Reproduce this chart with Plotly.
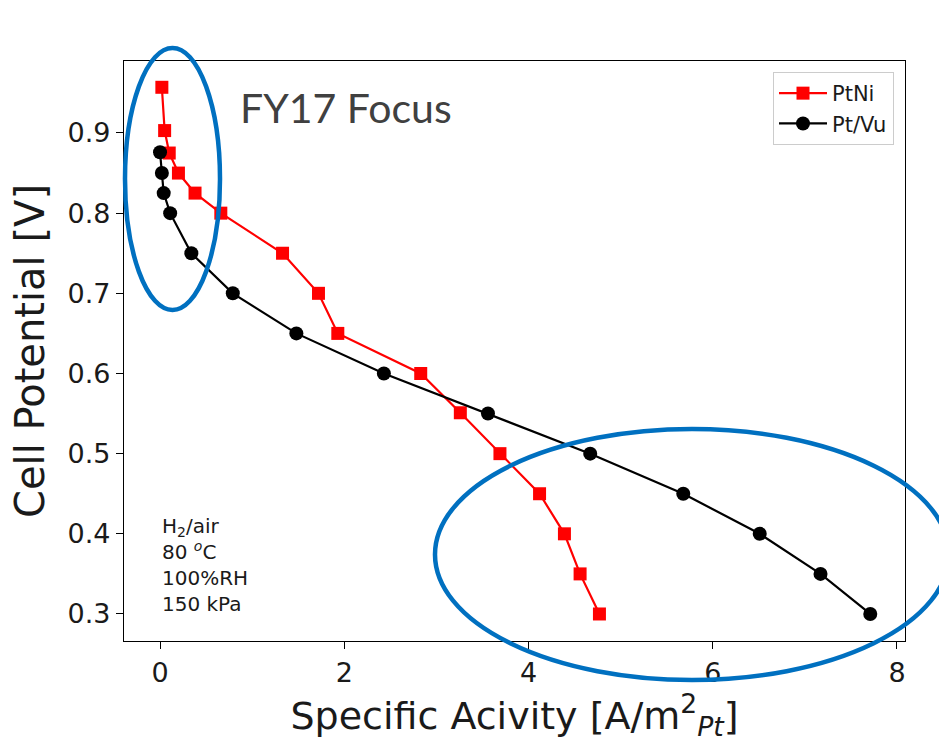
import plotly.graph_objects as go

# PtNi data
ptni_x = [0.02, 0.05, 0.10, 0.20, 0.38, 0.66, 1.33, 1.72, 1.93, 2.83, 3.26, 3.69, 4.12, 4.39, 4.56, 4.77]
ptni_y = [0.957, 0.903, 0.875, 0.850, 0.825, 0.800, 0.750, 0.700, 0.650, 0.600, 0.551, 0.500, 0.450, 0.400, 0.350, 0.300]

# Pt/Vu data
ptvu_x = [0.00, 0.02, 0.04, 0.11, 0.34, 0.79, 1.48, 2.43, 3.56, 4.67, 5.68, 6.51, 7.17, 7.71]
ptvu_y = [0.876, 0.850, 0.825, 0.800, 0.750, 0.700, 0.650, 0.600, 0.550, 0.500, 0.450, 0.400, 0.350, 0.300]

x_ticks = [0, 2, 4, 6, 8]
y_ticks = [0.3, 0.4, 0.5, 0.6, 0.7, 0.8, 0.9]

FONT = "DejaVu Sans"

fig = go.Figure()
fig.add_trace(go.Scatter(
    x=ptni_x, y=ptni_y, name="PtNi  ", mode="lines+markers",
    line=dict(color="#ff0000", width=2.2),
    marker=dict(symbol="square", size=13, color="#ff0000"),
))
fig.add_trace(go.Scatter(
    x=ptvu_x, y=ptvu_y, name="Pt/Vu", mode="lines+markers",
    line=dict(color="#000000", width=2.2),
    marker=dict(symbol="circle", size=14, color="#000000"),
))

L, R, T, B = 124, 34, 61, 102
W, H = 939, 743
pw, ph = W - L - R, H - T - B


def px(xp):
    return (xp - L) / pw


def py(yp):
    return (H - B - yp) / ph


axis_common = dict(
    showline=True, linecolor="black", linewidth=1.3, mirror=True,
    ticks="outside", ticklen=7, tickwidth=1.3, tickcolor="black",
    showgrid=False, zeroline=False,
    tickfont=dict(family=FONT, size=27, color="#1a1a1a"),
)

fig.update_layout(
    width=W, height=H,
    margin=dict(l=L, r=R, t=T, b=B, autoexpand=False),
    paper_bgcolor="white", plot_bgcolor="white",
    xaxis=dict(range=[-0.391, 8.087], tickvals=x_ticks, ticktext=[str(v) for v in x_ticks],
               title=dict(text="Specific Acivity [A/m<sup>2</sup><sub><i>Pt</i></sub>]", standoff=10,
                          font=dict(family=FONT, size=38, color="#1a1a1a")),
               automargin=False, **axis_common),
    yaxis=dict(range=[0.2663, 0.9898], tickvals=y_ticks, ticktext=[f"{v:.1f}" for v in y_ticks],
               title=dict(text="Cell Potential [V]", standoff=10,
                          font=dict(family=FONT, size=40, color="#1a1a1a")),
               automargin=False, **axis_common),
    legend=dict(
        x=px(894), y=py(72), xanchor="right", yanchor="top",
        bgcolor="white", bordercolor="#cccccc", borderwidth=1,
        font=dict(family=FONT, size=21, color="#1a1a1a"),
        itemwidth=48,
    ),
    showlegend=True,
)

# Ellipses (blue, annotation overlay)
fig.add_shape(type="circle", xref="paper", yref="paper",
              x0=px(125), x1=px(220), y0=py(310), y1=py(48),
              line=dict(color="#0070C0", width=4.5), layer="above")
fig.add_shape(type="circle", xref="paper", yref="paper",
              x0=px(435), x1=px(949), y0=py(680), y1=py(429),
              line=dict(color="#0070C0", width=4.5), layer="above")

fig.add_annotation(text="FY17 Focus", xref="paper", yref="paper",
                   x=px(238), y=py(107), xanchor="left", yanchor="middle",
                   showarrow=False, font=dict(family="Lato", size=41, color="#404040"))

fig.add_annotation(text="H<sub>2</sub>/air<br>80 <sup><i>o</i></sup>C<br>100%RH<br>150 kPa",
                   xref="paper", yref="paper", x=px(160), y=py(565),
                   xanchor="left", yanchor="middle", align="left",
                   showarrow=False, font=dict(family=FONT, size=20, color="#1a1a1a"))

fig.write_html("out.html")
